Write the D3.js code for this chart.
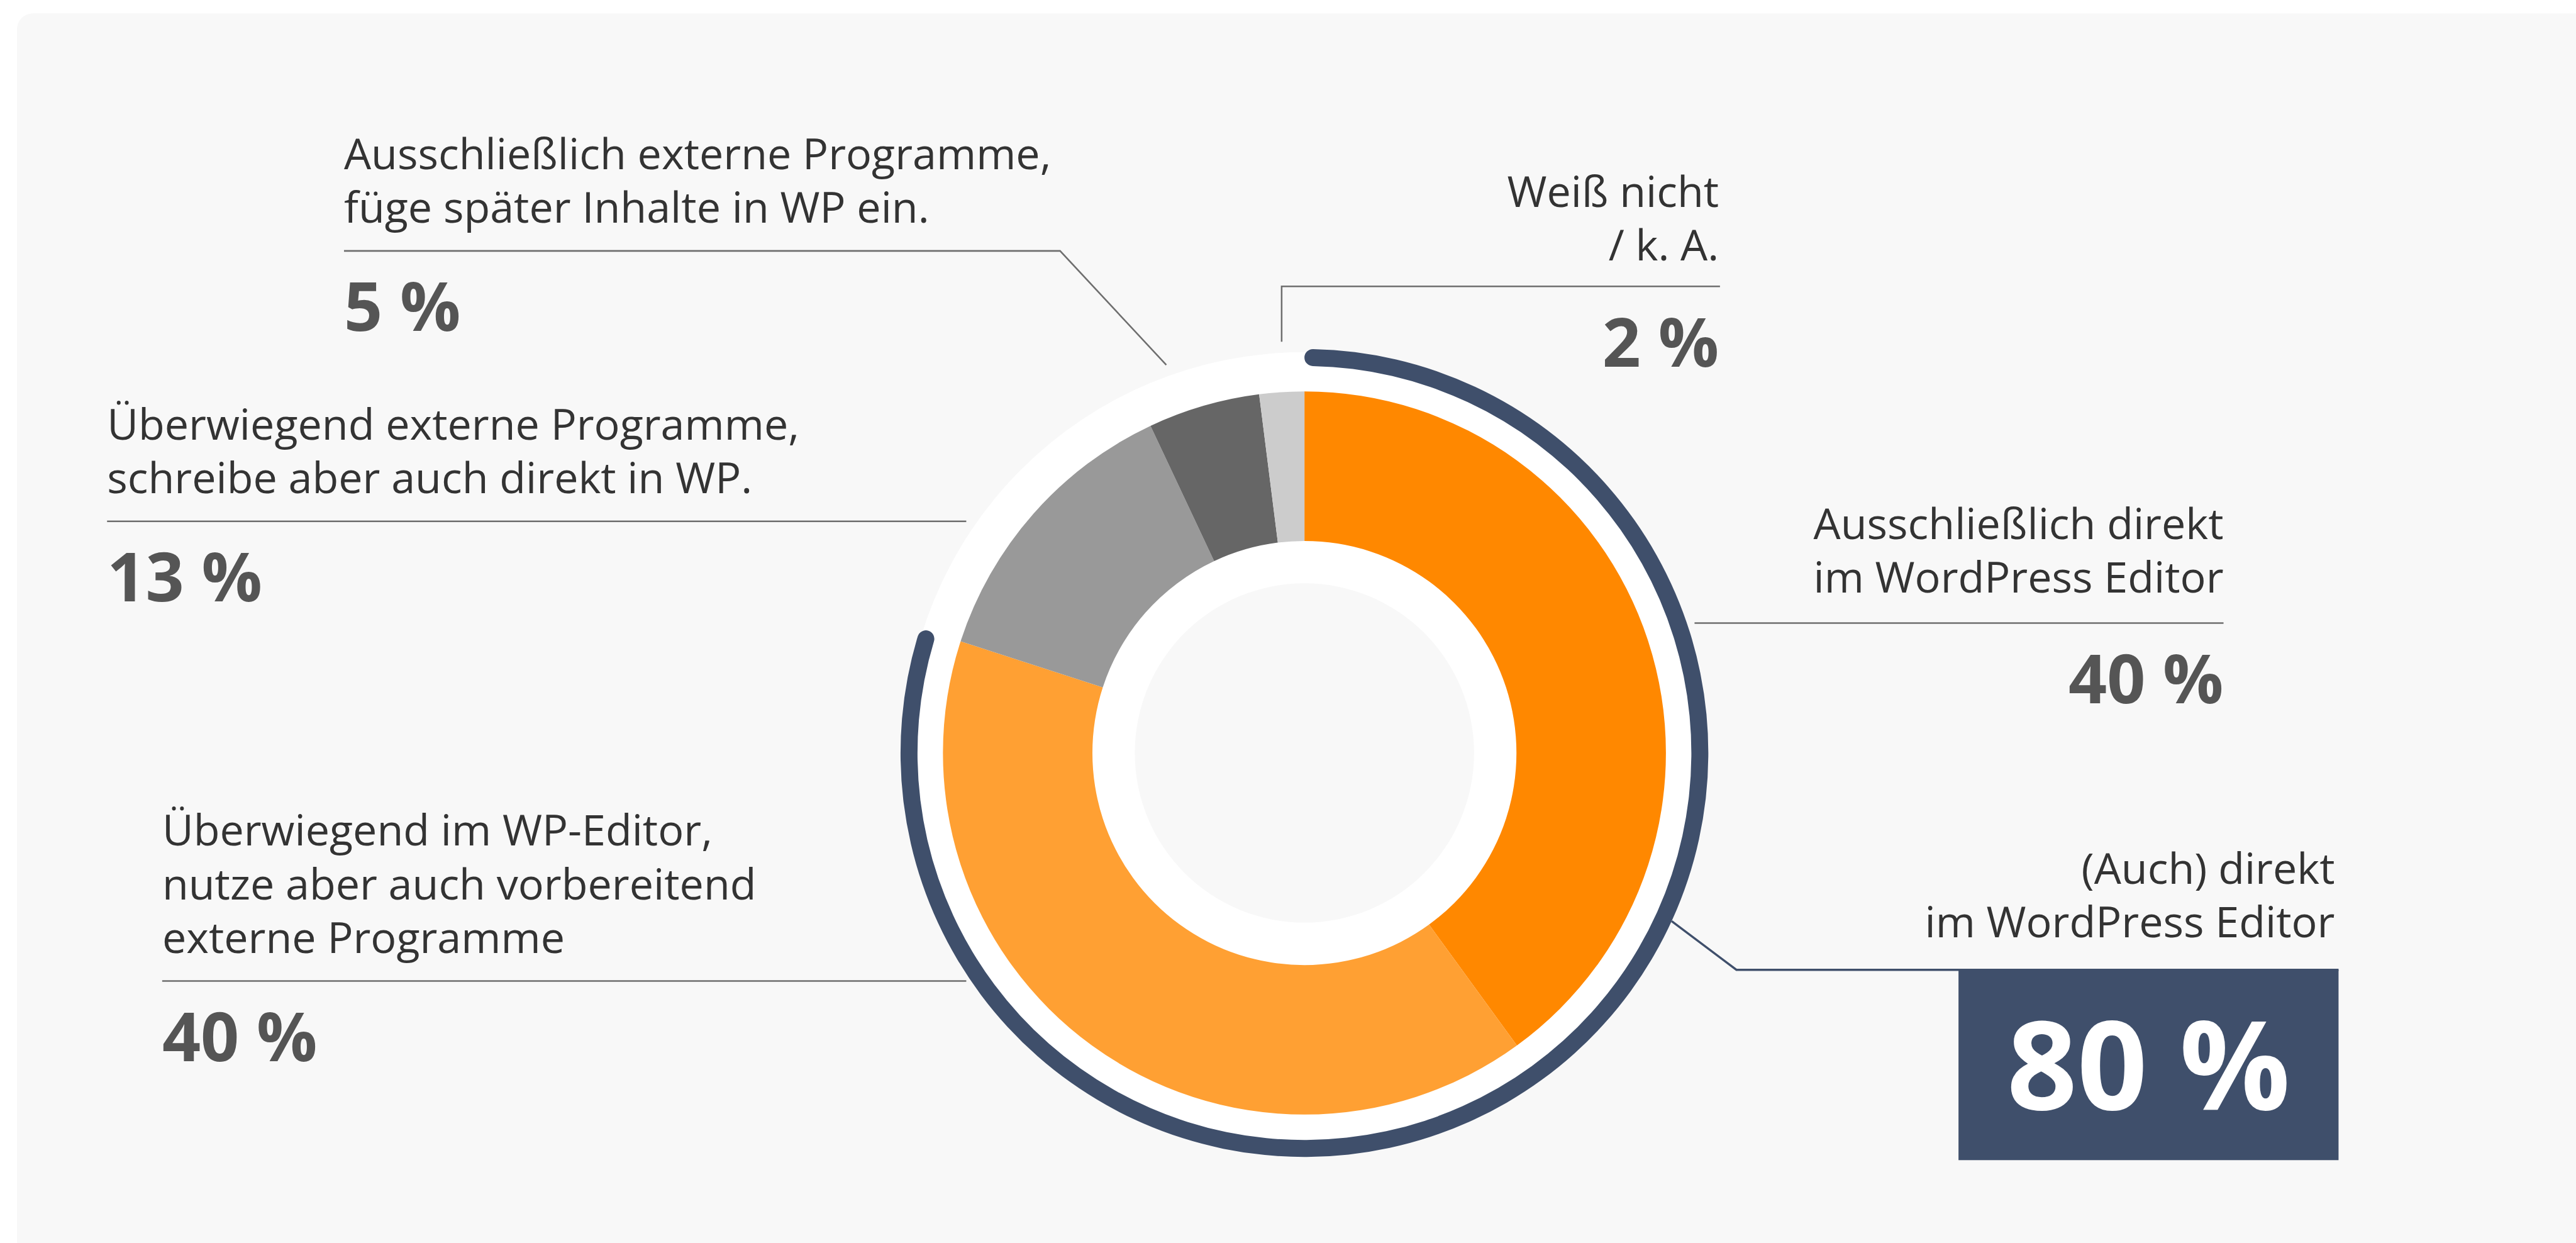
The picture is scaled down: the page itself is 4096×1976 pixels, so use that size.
<!DOCTYPE html>
<html>
<head>
<meta charset="utf-8">
<script src="https://cdn.jsdelivr.net/npm/d3@7"></script>
<style>
  html, body { margin: 0; padding: 0; background: #ffffff; overflow: hidden; }
  svg { display: block; }
  text { font-family: "Open Sans", "Noto Sans", sans-serif; }
</style>
</head>
<body>
<svg id="chart"></svg>
<script>
// data, clockwise from 12 o'clock
const categories = [
  "Ausschließlich direkt im WordPress Editor",
  "Überwiegend im WP-Editor, nutze aber auch vorbereitend externe Programme",
  "Überwiegend externe Programme, schreibe aber auch direkt in WP.",
  "Ausschließlich externe Programme, füge später Inhalte in WP ein.",
  "Weiß nicht / k. A."
];
const values = [40, 40, 13, 5, 2];
const colors = ["#ff8800", "#ffa033", "#999999", "#666666", "#cccccc"];
const labelLines = [
  ["Ausschließlich direkt", "im WordPress Editor"],
  ["Überwiegend im WP-Editor,", "nutze aber auch vorbereitend", "externe Programme"],
  ["Überwiegend externe Programme,", "schreibe aber auch direkt in WP."],
  ["Ausschließlich externe Programme,", "füge später Inhalte in WP ein."],
  ["Weiß nicht", "/ k. A."]
];
const totalLabel = ["(Auch) direkt", "im WordPress Editor"];
const totalValue = 80; // share covered by the outer navy arc

const W = 4860, H = 2344;
const cx = 2461, cy = 1420;
const rIn = 400, rOut = 682, rHole = 320;
const navy = "#3f4f6b";
const ruleColor = "#6e6e6e";
const labelSize = 81, pctSize = 127, lineGap = 101;

const svg = d3.select("#chart")
  .attr("width", 4096)
  .attr("height", 1976)
  .attr("viewBox", `0 0 ${W} ${H}`);

// card background
svg.append("rect")
  .attr("x", 32).attr("y", 25)
  .attr("width", W).attr("height", H)
  .attr("rx", 30)
  .attr("fill", "#f8f8f8");

const g = svg.append("g").attr("transform", `translate(${cx},${cy})`);

// white ring behind the donut
g.append("circle").attr("r", 756).attr("fill", "#ffffff");

const pie = d3.pie().sort(null).value((d) => d);
const arcs = pie(values);
const arc = d3.arc().innerRadius(rIn).outerRadius(rOut);

g.selectAll("path.slice")
  .data(arcs)
  .join("path")
  .attr("class", "slice")
  .attr("d", arc)
  .attr("fill", (d, i) => colors[i]);

g.append("circle").attr("r", rHole).attr("fill", "#f8f8f8");

// outer navy arc for the summed share
const angle = d3.scaleLinear([0, 100], [0, 2 * Math.PI]);
g.append("path")
  .attr("d", d3.arc()
    .innerRadius(730).outerRadius(762)
    .cornerRadius(16)
    .startAngle(angle(0)).endAngle(angle(totalValue))())
  .attr("fill", navy);

// point on a circle around the center, angle in degrees clockwise from top
const polar = (deg, r) => {
  const a = (deg * Math.PI) / 180;
  return [cx + r * Math.sin(a), cy - r * Math.cos(a)];
};

// label layout: anchor x, first baseline, rule y, leader
const layout = [
  { x: 4195, anchor: "end", y: 1017, rule: [3197, 4195, 1175] },
  { x: 306, anchor: "start", y: 1595, rule: [306, 1823, 1850] },
  { x: 202, anchor: "start", y: 829, rule: [202, 1823, 983] },
  { x: 649, anchor: "start", y: 319, rule: [649, 2000, 473], leader: { deg: 340.4, r: 777 } },
  { x: 3243, anchor: "end", y: 390, rule: [2418, 3245, 540], leader: { deg: 356.8, r: 777, vertical: true } }
];

layout.forEach((L, i) => {
  const [x0, x1, ry] = L.rule;
  let pts = [[x1, ry], [x0, ry]];
  if (L.leader && !L.leader.vertical) {
    pts = [[x0, ry], [x1, ry], polar(L.leader.deg, L.leader.r)];
  } else if (L.leader && L.leader.vertical) {
    const p = polar(L.leader.deg, L.leader.r);
    pts = [[x1, ry], [x0, ry], [x0, p[1]]];
  }
  svg.append("path")
    .attr("d", d3.line()(pts))
    .attr("fill", "none")
    .attr("stroke", ruleColor)
    .attr("stroke-width", 3);

  const t = svg.append("text")
    .attr("text-anchor", L.anchor)
    .attr("font-size", labelSize)
    .attr("fill", "#333333");
  t.selectAll("tspan")
    .data(labelLines[i])
    .join("tspan")
    .attr("x", L.x)
    .attr("y", (d, j) => L.y + j * lineGap)
    .text((d) => d);

  svg.append("text")
    .attr("x", L.x)
    .attr("y", ry + 151)
    .attr("text-anchor", L.anchor)
    .attr("font-size", pctSize)
    .attr("font-weight", 700)
    .attr("fill", "#555555")
    .text(`${values[i]} %`);
});

// total callout
const start = polar(114.6, 762);
const boxX = 3695, boxR = 4412, boxTop = 1829, boxBottom = 2188;
svg.append("path")
  .attr("d", d3.line()([start, [3276, boxTop], [boxR, boxTop]]))
  .attr("fill", "none")
  .attr("stroke", navy)
  .attr("stroke-width", 4);
svg.append("rect")
  .attr("x", boxX).attr("y", boxTop)
  .attr("width", boxR - boxX).attr("height", boxBottom - boxTop)
  .attr("fill", navy);
svg.append("text")
  .attr("text-anchor", "end")
  .attr("font-size", labelSize)
  .attr("fill", "#333333")
  .selectAll("tspan")
  .data(totalLabel)
  .join("tspan")
  .attr("x", 4405)
  .attr("y", (d, j) => 1667 + j * lineGap)
  .text((d) => d);
svg.append("text")
  .attr("x", (boxX + boxR) / 2)
  .attr("y", 2093)
  .attr("text-anchor", "middle")
  .attr("font-size", 232)
  .attr("font-weight", 700)
  .attr("fill", "#ffffff")
  .text(`${totalValue} %`);
</script>
</body>
</html>
